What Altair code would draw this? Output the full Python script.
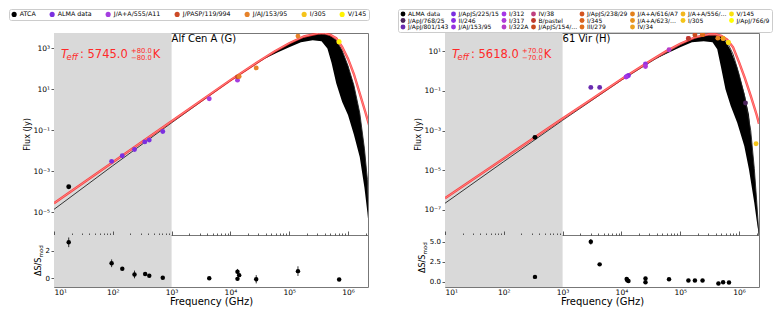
import altair as alt
import pandas as pd

FONT = "DejaVu Sans"
W, HM, HR = 314, 202, 52
X_DOMAIN = [10, 2.19e6]
SHADE_LO, SHADE_HI = [10], [1000]
DECADES = [1e1, 1e2, 1e3, 1e4, 1e5, 1e6]
MINORS = [m * d for d in DECADES for m in range(2, 10) if m * d <= 2.19e6]

# ---------------- Alf Cen A (left) ----------------
A_CATS = ["ATCA", "ALMA data", "J/A+A/555/A11", "J/PASP/119/994", "J/AJ/153/95", "I/305", "V/145"]
A_COLORS = ["#000000", "#7b2fe0", "#a43ee0", "#cc4a26", "#e6822a", "#f5c31a", "#fff200"]

A_PT_CAT = ["ATCA", "ALMA data", "ALMA data", "ALMA data", "ALMA data", "ALMA data", "ALMA data",
            "J/A+A/555/A11", "J/A+A/555/A11", "J/PASP/119/994", "J/AJ/153/95", "J/AJ/153/95",
            "J/AJ/153/95", "I/305", "V/145"]
A_PT_FREQ = [17.8, 95.5, 145, 234, 350, 417, 708, 4370, 13200, 13200, 14100, 27500, 141000, 700000, 708000]
A_PT_FLUX = [1.78e-4, 3.1e-3, 5.8e-3, 1.17e-2, 2.75e-2, 3.4e-2, 8.9e-2, 3.47, 28.2, 40.7, 42.7, 112,
             3980, 2050, 2090]

A_RES_FREQ = [17.8, 95.5, 145, 234, 355, 417, 708, 4370, 13200, 13200, 14100, 27500, 141000, 708000]
A_RES_VAL = [2.62, 1.10, 0.70, 0.29, 0.33, 0.19, 0.05, 0.02, 0.49, -0.03, 0.24, -0.06, 0.53, -0.08]
A_RES_ERR = [0.35, 0.28, 0.08, 0.28, 0.08, 0.08, 0.06, 0.08, 0.20, 0.10, 0.10, 0.30, 0.35, 0.05]

# curves, log10 of frequency (GHz) and log10 of flux (Jy)
A_RED_LOGF = [1.0, 2.0, 3.0, 3.5, 4.0, 4.5, 4.75, 5.0, 5.25, 5.5, 5.6, 5.7, 5.8, 5.9, 6.0, 6.1, 6.2, 6.3, 6.36]
A_RED_LOGS = [-4.55, -2.55, -0.55, 0.45, 1.45, 2.40, 2.85, 3.25, 3.58, 3.74, 3.74, 3.66, 3.50, 3.08,
              2.50, 1.75, 0.80, -0.15, -0.75]
A_BLK_LOGF = [1.0, 2.0, 3.0, 4.0, 4.5, 4.7, 4.8, 5.0, 5.2, 5.4, 5.55, 5.7, 5.8, 5.9, 6.0, 6.1, 6.2,
              6.28, 6.33, 6.36]
A_BLK_LOGS = [-4.85, -2.72, -0.63, 1.42, 2.36, 2.72, 2.90, 3.22, 3.50, 3.65, 3.70, 3.62, 3.40, 2.90,
              2.15, 1.20, -0.15, -1.90, -3.40, -5.90]
A_ENV_LOGF = [4.6, 4.8, 5.0, 5.2, 5.4, 5.55, 5.65, 5.72, 5.8, 5.9, 6.0, 6.1, 6.2, 6.28, 6.33, 6.36]
A_ENV_LO = [2.52, 2.80, 3.05, 3.30, 3.40, 3.35, 3.00, 2.30, 1.30, 0.40, -0.25, -1.20, -2.30, -3.80,
            -5.00, -5.90]
A_ENV_HI = [2.54, 2.90, 3.22, 3.50, 3.65, 3.70, 3.66, 3.58, 3.40, 2.90, 2.15, 1.20, -0.15, -1.90,
            -3.40, -5.90]

# ---------------- 61 Vir (right) ----------------
B_CATS = ["ALMA data", "J/ApJS/225/15", "I/312", "IV/38", "J/ApJS/238/29", "J/A+A/616/A7",
          "J/A+A/556/A150", "V/145",
          "J/ApJ/768/25", "II/246", "I/317", "B/pastel", "I/345", "J/A+A/623/A72", "I/305",
          "J/ApJ/766/9",
          "J/ApJ/801/143", "J/AJ/153/95", "I/322A", "J/ApJS/154/673", "III/279", "IV/34"]
B_COLORS = ["#000000", "#7b2fe0", "#a536e6", "#c0407f", "#d35420", "#e2801c", "#f2b61e", "#f9e010",
            "#4a235a", "#8a2be2", "#b03ad8", "#c0392b", "#d9621e", "#e8921c", "#f5c518", "#ffff00",
            "#6a2bb0", "#9632e0", "#b83cc8", "#c84b1f", "#df6e1c", "#eca01e"]

B_PT_CAT = ["ALMA data", "J/ApJ/768/25", "J/ApJ/801/143", "J/ApJ/801/143", "J/ApJS/225/15", "II/246",
            "J/AJ/153/95", "I/312", "I/317", "I/322A", "IV/38", "B/pastel", "J/ApJS/154/673",
            "J/ApJS/238/29", "I/345", "III/279", "J/A+A/616/A7", "J/A+A/623/A72", "IV/34",
            "J/A+A/556/A150", "I/305", "V/145"]
B_PT_FREQ = [339, 1.29e6, 3020, 4270, 12600, 13200, 25700, 12000, 25700, 64600, 138000, 138000,
             178000, 240000, 240000, 240000, 437000, 537000, 537000, 660000, 1.95e6, 660000]
B_PT_FLUX = [4.57e-4, 2.45e-2, 0.151, 0.151, 0.55, 0.60, 2.29, 0.50, 1.70, 12.0, 43.7, 43.7, 66.1,
             69.2, 69.2, 69.2, 45.7, 43.7, 43.7, 27.5, 2.19e-4, 27.5]

B_RES_FREQ = [339, 3020, 4270, 12300, 12600, 13200, 25700, 25700, 64600, 138000, 178000, 240000,
              447000, 537000, 676000]
B_RES_VAL = [0.63, 5.0, 2.19, 0.38, 0.21, 0.13, 0.43, -0.04, 0.34, 0.17, 0.17, 0.17, -0.20, -0.04, -0.08]
B_RES_ERR = [0.05, 0.35, 0.10, 0.10, 0.10, 0.08, 0.05, 0.05, 0.05, 0.05, 0.05, 0.05, 0.05, 0.05, 0.05]

B_RED_LOGF = [1.0, 2.0, 3.0, 3.5, 4.0, 4.5, 4.75, 5.0, 5.25, 5.5, 5.6, 5.7, 5.8, 5.9, 6.0, 6.1, 6.2, 6.3, 6.34]
B_RED_LOGS = [-6.41, -4.40, -2.39, -1.40, -0.41, 0.53, 0.98, 1.38, 1.70, 1.86, 1.86, 1.78, 1.58, 1.20,
              0.45, -0.35, -1.25, -2.20, -2.65]
B_BLK_LOGF = [1.0, 2.0, 3.0, 4.0, 4.5, 4.7, 4.8, 5.0, 5.2, 5.4, 5.55, 5.7, 5.8, 5.9, 6.0, 6.1, 6.2,
              6.26, 6.3, 6.34]
B_BLK_LOGS = [-6.66, -4.56, -2.48, -0.46, 0.47, 0.83, 0.98, 1.32, 1.60, 1.77, 1.81, 1.74, 1.46, 0.85,
              -0.15, -1.30, -3.00, -4.90, -6.50, -8.30]
B_ENV_LOGF = [4.6, 4.8, 5.0, 5.2, 5.4, 5.55, 5.63, 5.69, 5.77, 5.86, 5.97, 6.09, 6.17, 6.26, 6.30, 6.34]
B_ENV_LO = [0.64, 0.92, 1.20, 1.45, 1.50, 1.45, 1.10, 0.26, -0.92, -1.76, -2.60, -3.78, -4.96, -6.64,
            -7.50, -8.30]
B_ENV_HI = [0.66, 0.98, 1.32, 1.60, 1.77, 1.81, 1.78, 1.74, 1.50, 1.05, 0.20, -1.10, -2.20, -4.90,
            -6.50, -8.30]

# ---------------- helpers ----------------
sup = "''+round(log(datum.value)/LN10)"
for a, b in [("-", "⁻"), ("0", "⁰"), ("1", "¹"), ("2", "²"), ("3", "³"), ("4", "⁴"), ("5", "⁵"),
             ("6", "⁶"), ("7", "⁷"), ("8", "⁸"), ("9", "⁹")]:
    sup = f"replace({sup}, '{a}', '{b}')"
SUP = "'10' + " + sup

RED = "#ff2a2a"


def pw(vals):
    return [10 ** v for v in vals]


def main_panel(cats, colors, pcat, pf, pfl, rf, rs, bf, bs, ef, elo, ehi, ydom, yvals, name,
               teff, legend):
    xs = alt.Scale(type="log", domain=X_DOMAIN, nice=False)
    ys = alt.Scale(type="log", domain=ydom, nice=False)
    yax = alt.Axis(values=yvals, labelExpr=SUP, title="Flux (Jy)", tickSize=3, labelPadding=1.5,
                   labelFontSize=7.5, titleFontSize=8, grid=False, domain=False,
                   titleX=-22.5, titleY=HM / 2, titleFontWeight="normal")
    shade = alt.Chart(pd.DataFrame({"lo": SHADE_LO, "hi": SHADE_HI})).mark_rect(color="#d9d9d9").encode(
        x=alt.X("lo:Q", scale=xs, axis=None), x2="hi:Q", y=alt.value(0), y2=alt.value(HM))
    env = alt.Chart(pd.DataFrame({"f": pw(ef), "lo": pw(elo), "hi": pw(ehi)})).mark_area(
        color="black", clip=True).encode(
        x=alt.X("f:Q", scale=xs, axis=None), y=alt.Y("lo:Q", scale=ys, axis=yax), y2="hi:Q")
    blk = alt.Chart(pd.DataFrame({"f": pw(bf), "s": pw(bs)})).mark_line(
        color="#222222", strokeWidth=0.9, clip=True).encode(
        x=alt.X("f:Q", scale=xs, axis=None), y=alt.Y("s:Q", scale=ys, axis=yax))
    red_df = pd.DataFrame({"f": pw(rf), "s": pw(rs)})
    red = alt.Chart(red_df).mark_line(color=RED, strokeWidth=2.4, opacity=0.85, clip=True).encode(
        x=alt.X("f:Q", scale=xs, axis=None), y=alt.Y("s:Q", scale=ys, axis=yax))
    red_core = alt.Chart(red_df).mark_line(color="#ff9a9a", strokeWidth=0.7, clip=True).encode(
        x=alt.X("f:Q", scale=xs, axis=None), y=alt.Y("s:Q", scale=ys, axis=yax))
    pts = alt.Chart(pd.DataFrame({"cat": pcat, "f": pf, "s": pfl})).mark_circle(
        size=24, opacity=1).encode(
        x=alt.X("f:Q", scale=xs, axis=None), y=alt.Y("s:Q", scale=ys, axis=yax),
        color=alt.Color("cat:N", scale=alt.Scale(domain=cats, range=colors), legend=legend))
    title = alt.Chart(pd.DataFrame({"f": [1000], "t": [name]})).mark_text(
        align="left", baseline="alphabetic", fontSize=10, font=FONT, color="black").encode(
        x=alt.X("f:Q", scale=xs, axis=None), y=alt.value(8.7), text="t:N")
    value, plus, minus = teff
    it = pd.DataFrame({"t": ["T", "eff"], "px": [7, 12.5], "py": [24.7, 26.8], "fs": [11.5, 8.5]})
    nm = pd.DataFrame({"t": [": " + value, plus, minus, "K"], "px": [26, 77, 77, 98.7],
                       "py": [24.7, 20.3, 27.0, 24.7], "fs": [11.5, 6.8, 6.8, 11.5]})
    tit = alt.Chart(it).mark_text(align="left", baseline="alphabetic", font=FONT, fontStyle="italic",
                                  color=RED).encode(
        x=alt.X("px:Q", scale=None, axis=None), y=alt.Y("py:Q", scale=None, axis=None),
        size=alt.Size("fs:Q", scale=None, legend=None), text="t:N")
    tnm = alt.Chart(nm).mark_text(align="left", baseline="alphabetic", font=FONT, color=RED).encode(
        x=alt.X("px:Q", scale=None, axis=None), y=alt.Y("py:Q", scale=None, axis=None),
        size=alt.Size("fs:Q", scale=None, legend=None), text="t:N")
    return alt.layer(shade, env, blk, red, red_core, pts, title, tit, tnm).properties(width=W, height=HM)


def resid_panel(rf, rv, re, ydom, yvals, yfmt, ttl):
    xs = alt.Scale(type="log", domain=X_DOMAIN, nice=False)
    ys = alt.Scale(domain=ydom, nice=False, zero=False)
    yax = alt.Axis(values=yvals, format=yfmt, title=None, tickSize=3, labelPadding=1.5,
                   labelFontSize=7, grid=False, domain=False)
    top_major = alt.Axis(orient="top", values=DECADES, labels=False, tickSize=4, domain=False,
                         title=None, grid=False)
    top_minor = alt.Axis(orient="top", values=MINORS, labels=False, tickSize=2, domain=False,
                         title=None, grid=False)
    bottom = alt.Axis(orient="bottom", values=DECADES, labelExpr=SUP, ticks=False, labelPadding=1,
                      labelFontSize=7.5, domain=False, grid=False, title="Frequency (GHz)",
                      titleFontSize=10, titleFontWeight="normal", titlePadding=1)
    df = pd.DataFrame({"f": rf, "v": rv, "lo": [v - e for v, e in zip(rv, re)],
                       "hi": [v + e for v, e in zip(rv, re)]})
    shade = alt.Chart(pd.DataFrame({"lo": SHADE_LO, "hi": SHADE_HI})).mark_rect(color="#d9d9d9").encode(
        x=alt.X("lo:Q", scale=xs, axis=top_major), x2="hi:Q", y=alt.value(0), y2=alt.value(HR))
    err = alt.Chart(df).mark_rule(color="black", strokeWidth=0.8).encode(
        x=alt.X("f:Q", scale=xs, axis=top_minor), y=alt.Y("lo:Q", scale=ys, axis=yax), y2="hi:Q")
    pts = alt.Chart(df).mark_circle(size=20, color="black", opacity=1).encode(
        x=alt.X("f:Q", scale=xs, axis=bottom), y=alt.Y("v:Q", scale=ys, axis=yax))
    (mx, my), (sx, sy) = ttl
    lab = alt.Chart(pd.DataFrame({"t": ["ΔS/S", "mod"], "px": [mx, sx], "py": [my, sy],
                                  "fs": [8, 5.5]})).mark_text(
        align="left", baseline="alphabetic", angle=270, font=FONT, color="black").encode(
        x=alt.X("px:Q", scale=None, axis=None), y=alt.Y("py:Q", scale=None, axis=None),
        size=alt.Size("fs:Q", scale=None, legend=None), text="t:N")
    return alt.layer(shade, err, pts, lab).resolve_axis(x="independent").properties(width=W, height=HR)


leg_a = alt.Legend(title=None, orient="none", legendX=-45, legendY=-24, direction="horizontal",
                   columns=7, symbolType="circle", symbolSize=26, symbolStrokeWidth=0,
                   labelFontSize=6.3, labelFont=FONT, labelOffset=2.5, columnPadding=13,
                   rowPadding=0.5, padding=2, strokeColor="#cccccc", fillColor="white",
                   cornerRadius=2, labelLimit=80)
leg_b = alt.Legend(title=None, orient="none", legendX=-47, legendY=-24, direction="horizontal",
                   columns=8, symbolType="circle", symbolSize=24, symbolStrokeWidth=0,
                   labelFontSize=6.0, labelFont=FONT, labelOffset=2, columnPadding=1.5,
                   rowPadding=0.5, padding=2, strokeColor="#cccccc", fillColor="white",
                   cornerRadius=2, labelLimit=41, gridAlign="each")

main_a = main_panel(A_CATS, A_COLORS, A_PT_CAT, A_PT_FREQ, A_PT_FLUX, A_RED_LOGF, A_RED_LOGS,
                    A_BLK_LOGF, A_BLK_LOGS, A_ENV_LOGF, A_ENV_LO, A_ENV_HI,
                    [10 ** -6.1, 10 ** 3.75], [1e-5, 1e-3, 1e-1, 1e1, 1e3], "Alf Cen A (G)",
                    ("5745.0", "+80.0", "−80.0"), leg_a)
main_b = main_panel(B_CATS, B_COLORS, B_PT_CAT, B_PT_FREQ, B_PT_FLUX, B_RED_LOGF, B_RED_LOGS,
                    B_BLK_LOGF, B_BLK_LOGS, B_ENV_LOGF, B_ENV_LO, B_ENV_HI,
                    [10 ** -8.26, 10 ** 1.92], [1e-7, 1e-5, 1e-3, 1e-1, 1e1], "61 Vir (H)",
                    ("5618.0", "+70.0", "−70.0"), leg_b)
res_a = resid_panel(A_RES_FREQ, A_RES_VAL, A_RES_ERR, [-0.62, 3.15], [0, 2], "d",
                    ((-13, 41), (-11, 22.5)))
res_b = resid_panel(B_RES_FREQ, B_RES_VAL, B_RES_ERR, [-0.63, 5.85], [0, 2.5, 5.0], ".1f",
                    ((-20.3, 38), (-18.3, 19.5)))

chart = alt.concat(main_a, main_b, res_a, res_b, columns=2,
                   spacing={"row": 0, "column": 77}, bounds="flush").resolve_scale(
    x="independent", y="independent", color="independent").properties(padding=0).configure_view(
    stroke="#777777", strokeWidth=1).configure_axis(
    labelFont=FONT, titleFont=FONT, labelColor="black", titleColor="black", tickColor="#333333",
    tickWidth=0.8).configure_legend(labelFont=FONT, labelColor="black")

chart.save("out.html", embed_options={"renderer": "svg", "actions": False})
